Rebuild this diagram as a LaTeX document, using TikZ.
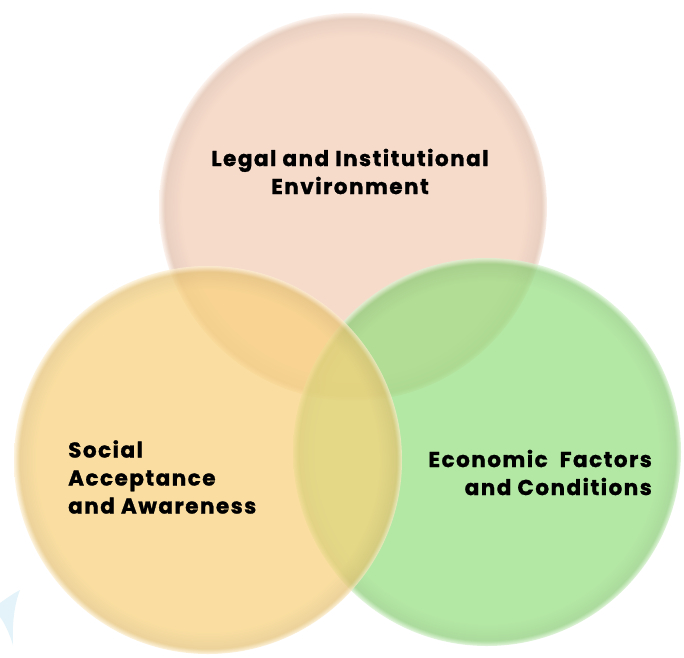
\documentclass[tikz,border=0pt]{standalone}
\usepackage{fontspec}
\setmainfont{Poppins}[LetterSpace=7, BoldFeatures={FakeBold=1.2}]
\definecolor{pinkc}{RGB}{243,204,181}
\definecolor{orangec}{RGB}{249,209,122}
\definecolor{greenc}{RGB}{148,222,126}
\definecolor{shardc}{RGB}{220,241,248}
\pgfdeclareradialshading{pinkshade}{\pgfpoint{0bp}{0bp}}{color(0bp)=(pinkc); color(22bp)=(pinkc); color(24.3bp)=(pinkc!92!black); color(25bp)=(pinkc!35!white); color(50bp)=(pinkc!35!white)}
\pgfdeclareradialshading{orangeshade}{\pgfpoint{0bp}{0bp}}{color(0bp)=(orangec); color(22bp)=(orangec); color(24.3bp)=(orangec!92!black); color(25bp)=(orangec!35!white); color(50bp)=(orangec!35!white)}
\pgfdeclareradialshading{greenshade}{\pgfpoint{0bp}{0bp}}{color(0bp)=(greenc); color(22bp)=(greenc); color(24.3bp)=(greenc!92!black); color(25bp)=(greenc!35!white); color(50bp)=(greenc!35!white)}
\tikzset{
  venn/.style={circle, minimum size=388pt, inner sep=0pt, fill opacity=0.7},
  label/.style={inner sep=0pt, text=black, font=\fontsize{21.5}{28}\selectfont\bfseries}
}
\begin{document}
\begin{tikzpicture}[x=1pt,y=-1pt]
\useasboundingbox (0,0) rectangle (684,657);
\fill[white] (0,0) rectangle (684,657);
% faint shard
\fill[shardc, opacity=0.8] (20,590) .. controls (14,605) and (12,625) .. (13,645)
  .. controls (9,632) and (4,622) .. (0,617) -- (0,603) .. controls (7,598) and (14,593) .. (20,590) -- cycle;
\node[venn, shading=pinkshade] (legal) at (353,207) {};
\node[venn, shading=greenshade] (econ) at (487,452) {};
\node[venn, shading=orangeshade] (social) at (208,460) {};
\node[label, align=center] (legaltxt) at (350,171.5) {Legal and Institutional\\Environment};
\node[label, align=left, anchor=west] (socialtxt) at (68,477) {Social\\Acceptance\\and Awareness};
\node[label, align=right, anchor=east] (econtxt) at (652,472.5) {Economic\ \ Factors\\and Conditions};
\end{tikzpicture}
\end{document}
